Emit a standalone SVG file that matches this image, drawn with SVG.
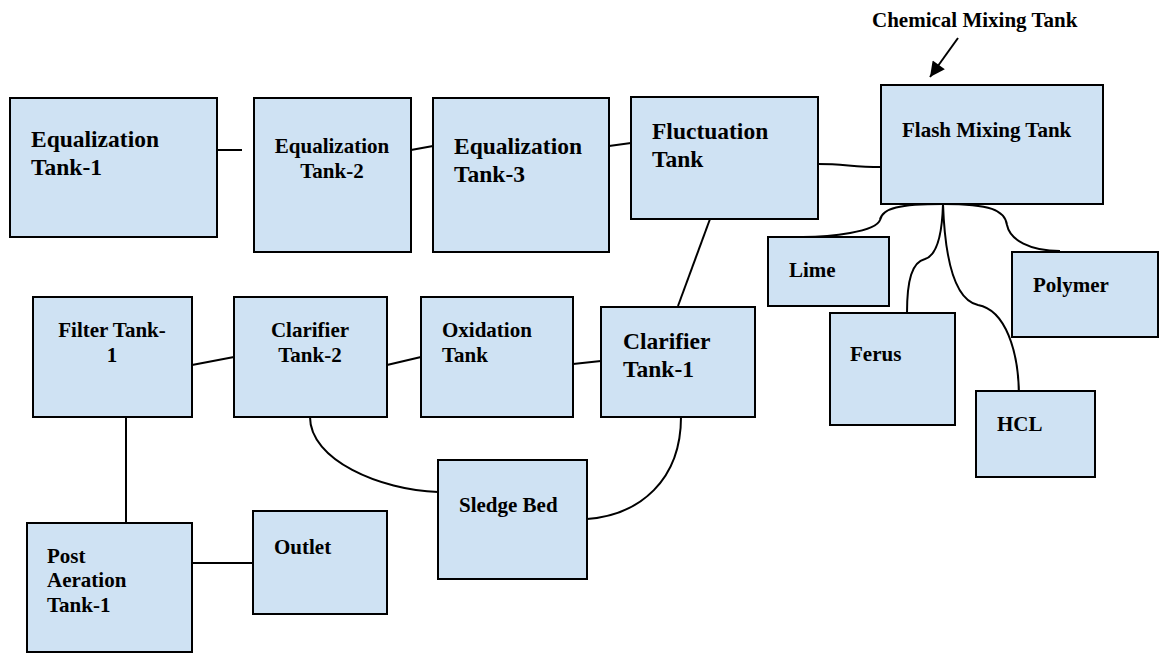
<svg xmlns="http://www.w3.org/2000/svg" width="1159" height="653" viewBox="0 0 1159 653">
  <style>
    .box { fill: #cfe2f3; stroke: #000; stroke-width: 2; }
    .lbl { font-family: "Liberation Serif", "Times New Roman", serif; font-weight: bold; font-size: 21px; fill: #000; }
    .big { font-size: 23.5px; }
    .wire { fill: none; stroke: #000; stroke-width: 2; }
  </style>
  <defs>
    <marker id="arrow" viewBox="0 0 10 10" refX="10" refY="5" markerWidth="17" markerHeight="15" orient="auto" markerUnits="userSpaceOnUse">
      <path d="M0,0 L10,5 L0,10 Z" fill="#000"/>
    </marker>
  </defs>
  <rect width="1159" height="653" fill="#fff"/>

  <!-- connectors -->
  <g id="connectors">
    <path class="wire" d="M217,150 L242,150"/>
    <path class="wire" d="M411,150 L433,146"/>
    <path class="wire" d="M609,146 L631,143"/>
    <path class="wire" d="M818,164 C845,164 852,167 881,167"/>
    <path class="wire" d="M710,219 L678,306"/>
    <path class="wire" d="M943,204 C900,204 882,208 880,220 C876,232 830,237 803,237"/>
    <path class="wire" d="M943,204 C990,204 1005,210 1007,225 C1010,240 1030,251 1060,251"/>
    <path class="wire" d="M943,204 C942,240 935,256 925,259 C912,262 907,280 907,313"/>
    <path class="wire" d="M943,204 C945,260 955,300 978,305 C1005,310 1019,350 1019,398"/>
    <path class="wire" d="M192,365 L234,357"/>
    <path class="wire" d="M387,365 L421,357"/>
    <path class="wire" d="M573,364 L601,361"/>
    <path class="wire" d="M310,417 C310,460 380,490 438,492"/>
    <path class="wire" d="M681,417 C681,480 640,515 587,519"/>
    <path class="wire" d="M126,417 L126,523"/>
    <path class="wire" d="M192,563 L253,563"/>
    <path class="wire" d="M958,38 L930,77" marker-end="url(#arrow)"/>
  </g>

  <text class="lbl" x="872" y="27">Chemical Mixing Tank</text>

  <g id="eq1">
    <rect class="box" x="10" y="98" width="207" height="139"/>
    <text class="lbl big" x="31" y="147">Equalization</text>
    <text class="lbl big" x="31" y="175">Tank-1</text>
  </g>
  <g id="eq2">
    <rect class="box" x="254" y="98" width="157" height="154"/>
    <text class="lbl" x="332" y="153" text-anchor="middle">Equalization</text>
    <text class="lbl" x="332" y="178" text-anchor="middle">Tank-2</text>
  </g>
  <g id="eq3">
    <rect class="box" x="433" y="98" width="176" height="154"/>
    <text class="lbl big" x="454" y="154">Equalization</text>
    <text class="lbl big" x="454" y="182">Tank-3</text>
  </g>
  <g id="fluctuation">
    <rect class="box" x="631" y="97" width="187" height="122"/>
    <text class="lbl big" x="652" y="139">Fluctuation</text>
    <text class="lbl big" x="652" y="167">Tank</text>
  </g>
  <g id="flash">
    <rect class="box" x="881" y="85" width="222" height="119"/>
    <text class="lbl" x="902" y="137">Flash Mixing Tank</text>
  </g>
  <g id="lime">
    <rect class="box" x="768" y="237" width="121" height="69"/>
    <text class="lbl" x="789" y="277">Lime</text>
  </g>
  <g id="polymer">
    <rect class="box" x="1012" y="252" width="146" height="85"/>
    <text class="lbl" x="1033" y="292">Polymer</text>
  </g>
  <g id="ferus">
    <rect class="box" x="830" y="313" width="125" height="112"/>
    <text class="lbl" x="850" y="361">Ferus</text>
  </g>
  <g id="hcl">
    <rect class="box" x="976" y="391" width="119" height="86"/>
    <text class="lbl" x="997" y="431">HCL</text>
  </g>
  <g id="filter1">
    <rect class="box" x="33" y="297" width="159" height="120"/>
    <text class="lbl" x="112" y="337" text-anchor="middle">Filter Tank-</text>
    <text class="lbl" x="112" y="362" text-anchor="middle">1</text>
  </g>
  <g id="clarifier2">
    <rect class="box" x="234" y="297" width="153" height="120"/>
    <text class="lbl" x="310" y="337" text-anchor="middle">Clarifier</text>
    <text class="lbl" x="310" y="362" text-anchor="middle">Tank-2</text>
  </g>
  <g id="oxidation">
    <rect class="box" x="421" y="297" width="152" height="120"/>
    <text class="lbl" x="442" y="337">Oxidation</text>
    <text class="lbl" x="442" y="362">Tank</text>
  </g>
  <g id="clarifier1">
    <rect class="box" x="601" y="307" width="154" height="110"/>
    <text class="lbl big" x="623" y="349">Clarifier</text>
    <text class="lbl big" x="623" y="377">Tank-1</text>
  </g>
  <g id="sledge">
    <rect class="box" x="438" y="460" width="149" height="119"/>
    <text class="lbl" x="459" y="512">Sledge Bed</text>
  </g>
  <g id="post-aeration">
    <rect class="box" x="27" y="523" width="165" height="129"/>
    <text class="lbl" x="47" y="563">Post</text>
    <text class="lbl" x="47" y="587">Aeration</text>
    <text class="lbl" x="47" y="612">Tank-1</text>
  </g>
  <g id="outlet">
    <rect class="box" x="253" y="511" width="134" height="103"/>
    <text class="lbl" x="274" y="554">Outlet</text>
  </g>
</svg>
